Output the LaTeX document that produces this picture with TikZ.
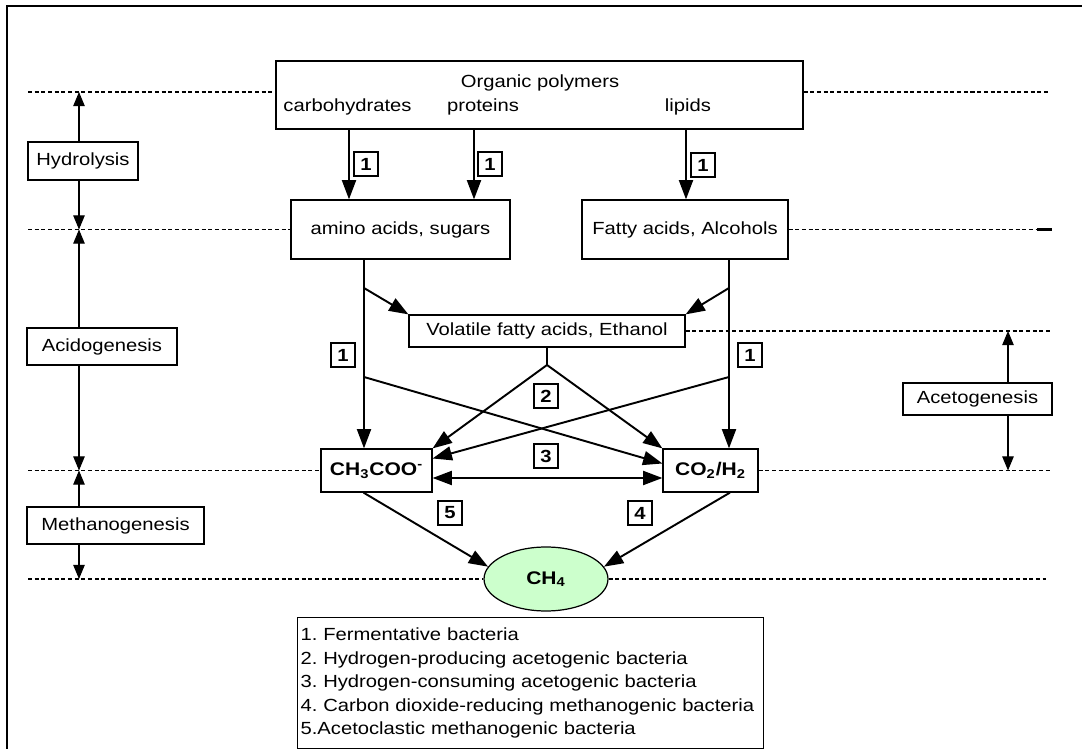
\documentclass[tikz,border=0pt]{standalone}
\usepackage{fontspec}
\setmainfont{Liberation Sans}[FakeStretch=1.15]
\usetikzlibrary{%
  arrows.meta,%
  positioning,%
  calc,%
  shapes.geometric% wg. ellipse
}
\definecolor{methgreen}{HTML}{CCFFCC}
\frenchspacing

\begin{document}
\begin{tikzpicture}
  [
  x=0.02cm, y=-0.02cm,
  font=\fontsize{10}{12}\selectfont, line width=0.7pt,
  >={Triangle[length=11pt,width=8pt]},
  box/.style={rectangle, draw=black, line width=0.7pt, inner sep=0pt},
  stagebox/.style={rectangle, draw=black, line width=0.7pt, inner sep=0pt, minimum height=0.74cm},
  numbox/.style={rectangle, draw=black, line width=0.7pt, inner sep=0pt, minimum size=0.48cm, font=\fontsize{10}{12}\selectfont\bfseries},
  chem/.style={box, font=\fontsize{10.4}{12}\selectfont\bfseries},
  flow/.style={->, line width=1.1pt},
  stagearr/.style={-{Triangle[length=8pt,width=6.5pt]}, line width=0.6pt},
  level/.style={line width=1pt, dash pattern=on 2.3pt off 1.5pt},
  ]
  \useasboundingbox (0,0) rectangle (1082,749);
  \draw[line width=1.2pt] (7,749) -- (7,6) -- (1082,6);

  % substrates and products
  \node[box, minimum width=10.54cm, minimum height=1.36cm] (poly) at (539.5,95) {};
  \node (polyname) at (540,83) {Organic polymers};
  \node (carb) at (347.5,107) {carbohydrates};
  \node (prot) at (483,107) {proteins};
  \node (lipid) at (688,107) {lipids};

  \node[box, minimum width=4.38cm, minimum height=1.18cm] (amino) at (400.5,229.5) {amino acids, sugars};
  \node[box, minimum width=4.12cm, minimum height=1.18cm] (fatty) at (685,229.5) {Fatty acids, Alcohols};
  \node[box, minimum width=5.52cm, minimum height=0.64cm] (vfa) at (547,331) {Volatile fatty acids, Ethanol};
  \node[chem, minimum width=2.22cm, minimum height=0.86cm] (ch3coo) at (376.5,470.5) {CH\textsubscript{3}COO\textsuperscript{-}};
  \node[chem, minimum width=1.9cm, minimum height=0.86cm] (co2) at (710.5,470.5) {CO\textsubscript{2}/H\textsubscript{2}};
  \node[ellipse, draw=black, fill=methgreen, line width=0.7pt, inner sep=0pt, minimum width=2.48cm, minimum height=1.28cm, font=\fontsize{10.4}{12}\selectfont\bfseries] (ch4) at (546,579) {CH\textsubscript{4}};

  \node[box, anchor=north west, minimum height=2.62cm, text width=9.2cm, inner xsep=0.06cm, align=left, font=\fontsize{10}{13.4}\selectfont] (legend) at (297,617)
    {1. Fermentative bacteria\\
     2. Hydrogen-producing acetogenic bacteria\\
     3. Hydrogen-consuming acetogenic bacteria\\
     4. Carbon dioxide-reducing methanogenic bacteria\\
     5.Acetoclastic methanogenic bacteria};

  % stages
  \node[stagebox, minimum width=2.2cm, minimum height=0.76cm] (hydro) at (83,161) {Hydrolysis};
  \node[stagebox, minimum width=3.0cm] (acido) at (102,346.5) {Acidogenesis};
  \node[stagebox, minimum width=3.54cm] (metha) at (115.5,525.5) {Methanogenesis};
  \node[stagebox, minimum width=2.98cm, minimum height=0.64cm] (aceto) at (977.5,399) {Acetogenesis};

  % level lines
  \coordinate (L1) at (28,92);
  \coordinate (L2) at (28,229.5);
  \coordinate (L3) at (28,470.5);
  \coordinate (L4) at (28,579);
  \coordinate (R1) at (1048,92);
  \coordinate (R2) at (1037,229.5);
  \coordinate (R2e) at (1052,229.5);
  \coordinate (R3) at (1052,331);
  \coordinate (R4) at (1052,470.5);
  \coordinate (R5) at (1046,579);
  \coordinate (ax) at (79,0);
  \coordinate (bx) at (1008,0);

  \draw[level] (L1) -- (L1 -| poly.west);
  \draw[level] (poly.east |- L1) -- (R1);
  \draw[level] (L2) -- (amino.west);
  \draw[level] (fatty.east) -- (R2);
  \draw[line width=1.4pt] (R2) -- (R2e);
  \draw[level] (vfa.east) -- (R3);
  \draw[level] (L3) -- (ch3coo.west);
  \draw[level] (co2.east) -- (R4);
  \draw[level] (L4) -- (ch4.west);
  \draw[level] (ch4.east) -- (R5);

  \draw[stagearr] (hydro.north -| ax) -- (L1 -| ax);
  \draw[stagearr] (hydro.south -| ax) -- (L2 -| ax);
  \draw[stagearr] (acido.north -| ax) -- (L2 -| ax);
  \draw[stagearr] (acido.south -| ax) -- (L3 -| ax);
  \draw[stagearr] (metha.north -| ax) -- (L3 -| ax);
  \draw[stagearr] (metha.south -| ax) -- (L4 -| ax);
  \draw[stagearr] (aceto.north -| bx) -- (R3 -| bx);
  \draw[stagearr] (aceto.south -| bx) -- (R4 -| bx);

  % pathways
  \coordinate (d1) at (349,0);
  \coordinate (d2) at (474,0);
  \coordinate (d3) at (686,0);
  \coordinate (ja) at (364,288);
  \coordinate (jb) at (364,377);
  \coordinate (jc) at (729,288);
  \coordinate (jd) at (729,377);
  \coordinate (jv) at (547,365);

  \draw[flow] (poly.south -| d1) -- (amino.north -| d1);
  \draw[flow] (poly.south -| d2) -- (amino.north -| d2);
  \draw[flow] (poly.south -| d3) -- (fatty.north -| d3);
  \draw[flow] (amino.south -| ja) -- (ch3coo.north -| ja);
  \draw[flow] (fatty.south -| jc) -- (co2.north -| jc);
  \draw[flow] (ja) -- (vfa.north west);
  \draw[flow] (jc) -- (vfa.north east);
  \draw[flow] (jb) -- ($(co2.west)+(0,-7)$);
  \draw[flow] (jd) -- ($(ch3coo.east)+(0,-12)$);
  \draw[line width=1.1pt] (vfa.south) -- (jv);
  \draw[flow] (jv) -- (ch3coo.north east);
  \draw[flow] (jv) -- (co2.north west);
  \draw[flow, <->] ($(ch3coo.east)+(0,7.5)$) -- ($(co2.west)+(0,7.5)$);
  \draw[flow] ($(ch3coo.south)+(-13,0)$) -- (ch4.168);
  \draw[flow] ($(co2.south)+(19.5,0)$) -- (ch4.12);

  % bacteria groups
  \node[numbox] (n1a) at (366,164) {1};
  \node[numbox] (n1b) at (490,164) {1};
  \node[numbox] (n1c) at (703,165) {1};
  \node[numbox] (n1d) at (343,355) {1};
  \node[numbox] (n1e) at (750,355) {1};
  \node[numbox] (n2) at (546,396) {2};
  \node[numbox] (n3) at (546,456) {3};
  \node[numbox] (n5) at (450,513) {5};
  \node[numbox] (n4) at (640,513) {4};

\end{tikzpicture}
\end{document}
